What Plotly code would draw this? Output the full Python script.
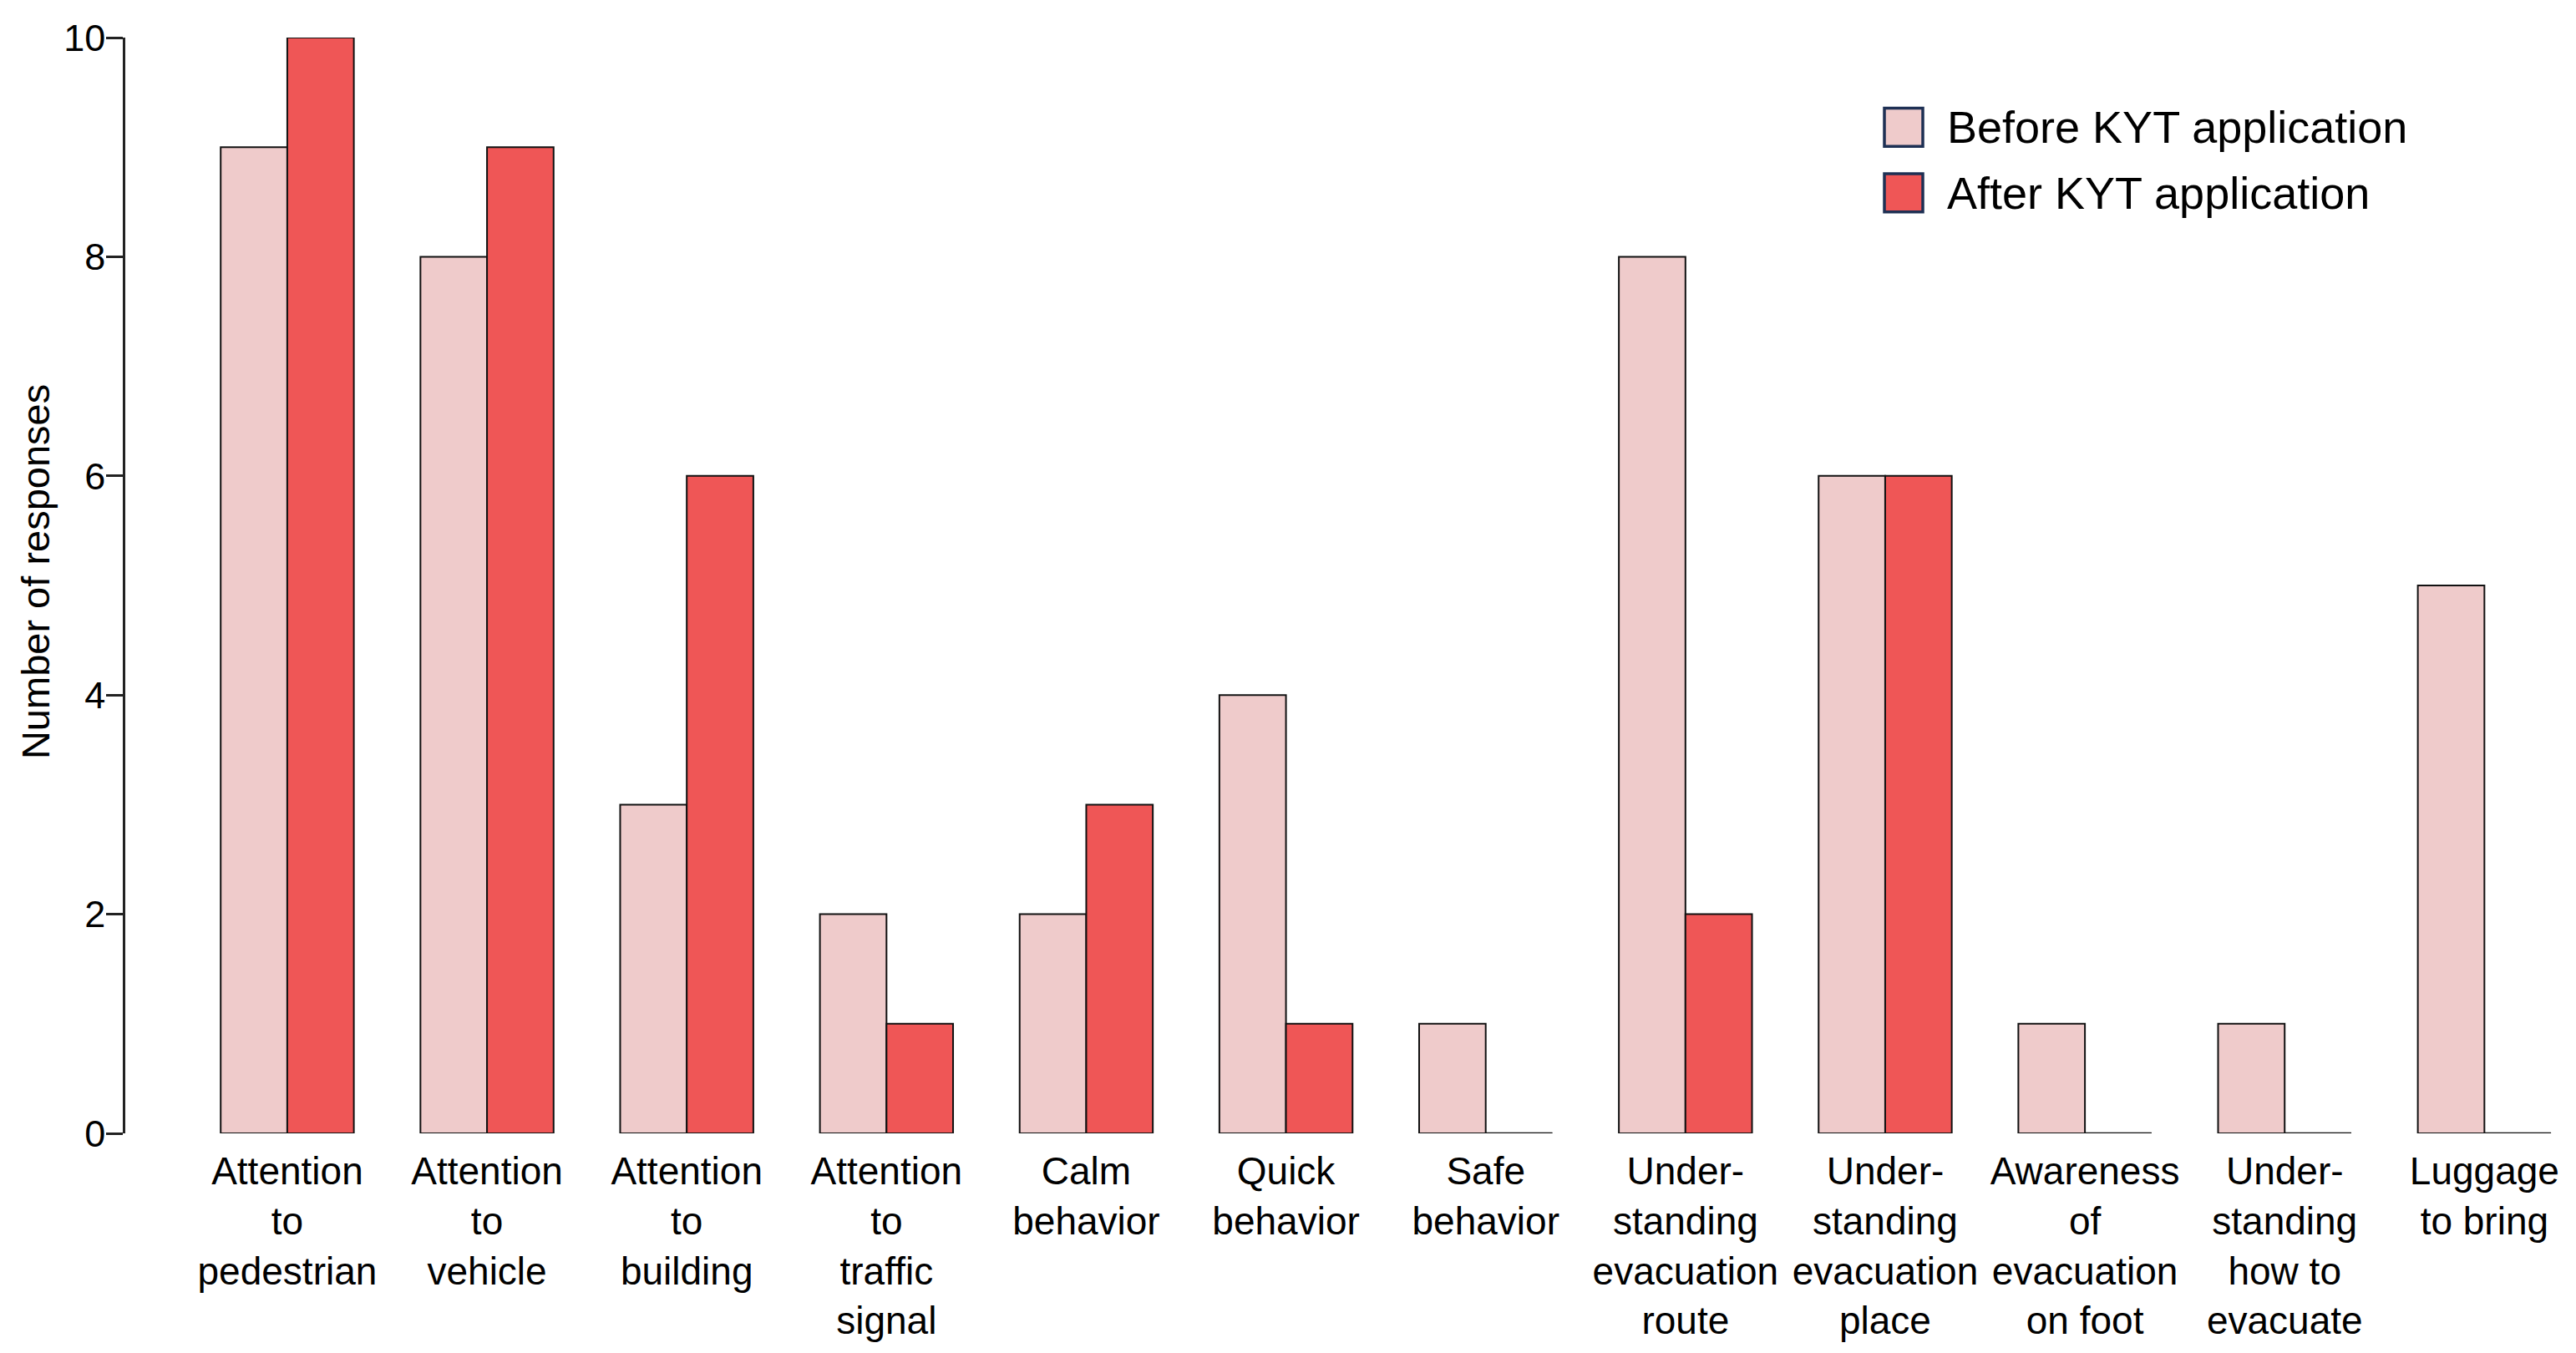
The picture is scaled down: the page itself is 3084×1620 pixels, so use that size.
import plotly.graph_objects as go

categories = [
    "Attention<br>to<br>pedestrian",
    "Attention<br>to<br>vehicle",
    "Attention<br>to<br>building",
    "Attention<br>to<br>traffic<br>signal",
    "Calm<br>behavior",
    "Quick<br>behavior",
    "Safe<br>behavior",
    "Under-<br>standing<br>evacuation<br>route",
    "Under-<br>standing<br>evacuation<br>place",
    "Awareness<br>of<br>evacuation<br>on foot",
    "Under-<br>standing<br>how to<br>evacuate",
    "Luggage<br>to bring",
]
before = [9, 8, 3, 2, 2, 4, 1, 8, 6, 1, 1, 5]
after = [10, 9, 6, 1, 3, 1, 0, 2, 6, 0, 0, 0]
series_names = ["Before KYT application", "After KYT application"]
y_ticks = [0, 2, 4, 6, 8, 10]

PINK = "#EFCBCB"
RED = "#EF5656"
NAVY = "#1E3054"
FONT = "Liberation Sans, Arial, sans-serif"

W, H = 3084, 1620
ML, MR, MT, MB = 142, 22, 29, 271
PW, PH = W - ML - MR, H - MT - MB


def px_to_paper(xp, yp):
    # page px (body offset 8px) -> paper coords
    xf, yf = xp - 8, yp - 8
    return (xf - ML) / PW, (H - MB - yf) / PH


positions = list(range(len(categories)))
BARGAP = 1 / 3
bar_w = (1 - BARGAP) / 2

fig = go.Figure()
for name, vals, col in [(series_names[0], before, PINK), (series_names[1], after, RED)]:
    fig.add_trace(go.Bar(
        x=positions, y=vals, name=name,
        marker=dict(color=col, line=dict(color="#111111", width=2)),
        showlegend=False,
    ))

# outline for zero-height "after" bars (drawn as a baseline segment)
zx, zy = [], []
for i, v in zip(positions, after):
    if v == 0:
        zx += [i, i + bar_w, None]
        zy += [v, v, None]
fig.add_trace(go.Scatter(x=zx, y=zy, mode="lines", line=dict(color="#111111", width=2.5),
                         showlegend=False, hoverinfo="skip", cliponaxis=False))

# legend (drawn manually to match large square swatches)
leg_items = [(series_names[0], PINK, 0.0), (series_names[1], RED, 1.0)]
x0_px, y0_px, sq, step = 2256, 122, 46, 79
for name, col, k in leg_items:
    top = y0_px + k * step
    ax0, ay0 = px_to_paper(x0_px, top)
    ax1, ay1 = px_to_paper(x0_px + sq, top + sq)
    fig.add_shape(type="rect", xref="paper", yref="paper",
                  x0=ax0, x1=ax1, y0=ay0, y1=ay1,
                  fillcolor=col, line=dict(color=NAVY, width=3.5), layer="above")
    tx, ty = px_to_paper(2329, top + sq / 2)
    fig.add_annotation(xref="paper", yref="paper", x=tx, y=ty,
                       text=name, showarrow=False, xanchor="left", yanchor="middle",
                       font=dict(family=FONT, size=54, color="#000000"))

# y-axis title
ttx, tty = px_to_paper(42, 681)
fig.add_annotation(xref="paper", yref="paper", x=ttx, y=tty, text="Number of responses",
                   textangle=-90, showarrow=False, xanchor="center", yanchor="middle",
                   font=dict(family=FONT, size=47, color="#000000"))

fig.update_layout(
    width=W, height=H,
    margin=dict(l=ML, r=MR, t=MT, b=MB),
    paper_bgcolor="white", plot_bgcolor="white",
    barmode="group", bargap=BARGAP, bargroupgap=0,
    font=dict(family=FONT, size=46, color="#000000"),
    showlegend=False,
)
fig.update_xaxes(
    range=[-0.811, 11.40],
    tickvals=positions, ticktext=categories,
    showgrid=False, zeroline=False, showline=False, ticks="",
    ticklabelstandoff=14,
    tickfont=dict(family=FONT, size=46, color="#000000"),
)
fig.update_yaxes(
    range=[0, 10], tickvals=y_ticks,
    showgrid=False, zeroline=False,
    showline=True, linecolor="#222222", linewidth=2.5,
    ticks="outside", ticklen=20, tickwidth=2.5, tickcolor="#222222",
    ticklabelstandoff=-8,
    tickfont=dict(family=FONT, size=45, color="#000000"),
)

fig.write_html("out.html")
